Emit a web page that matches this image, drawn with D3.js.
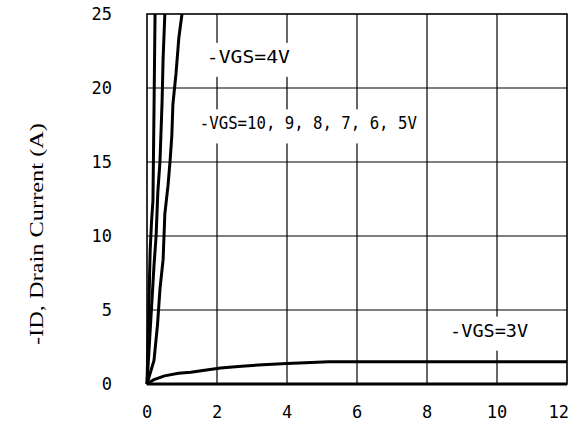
<!DOCTYPE html>
<html>
<head>
<meta charset="utf-8">
<script src="https://cdn.jsdelivr.net/npm/d3@7"></script>
<style>
  body { margin: 0; background: #fff; }
  text { fill: #000; }
</style>
</head>
<body>
<div id="chart"></div>
<script>

// axis ticks
var xTicks = [0, 2, 4, 6, 8, 10, 12],
  yTicks = [0, 5, 10, 15, 20, 25];

// curves: -VD (V) and -ID (A)
var vgs10Vd = [0, 0.05, 0.09, 0.13, 0.17, 0.2, 0.23],
  vgs10Id = [0, 5, 9, 11, 12.4, 18.5, 25];
var vgs6Vd = [0, 0.1, 0.2, 0.26, 0.31, 0.37, 0.43, 0.46, 0.51],
  vgs6Id = [0, 4, 8, 10, 13, 15, 19, 22, 25];
var vgs4Vd = [0, 0.2, 0.3, 0.37, 0.46, 0.51, 0.6, 0.66, 0.71, 0.74, 0.83, 0.91, 1.0],
  vgs4Id = [0, 1.6, 4, 6.4, 8.4, 11.5, 13.4, 15.1, 16.8, 18.9, 21, 23.4, 25];
var vgs3Vd = [0, 0.2, 0.5, 0.9, 1.25, 1.7, 2.1, 2.7, 3.3, 4, 5.2, 12],
  vgs3Id = [0, 0.3, 0.55, 0.72, 0.8, 0.95, 1.08, 1.2, 1.3, 1.38, 1.5, 1.5];
var vgs2Vd = [0, 12],
  vgs2Id = [0, 0];

var curvesVd = [vgs10Vd, vgs6Vd, vgs4Vd, vgs3Vd, vgs2Vd],
  curvesId = [vgs10Id, vgs6Id, vgs4Id, vgs3Id, vgs2Id];

// annotations
var labelText = ["-VGS=4V", "-VGS=10, 9, 8, 7, 6, 5V", "-VGS=3V"],
  labelX = [1.71, 1.51, 8.66],
  labelY = [21.7, 17.2, 3.2],
  labelLen = [83, 217, 78];


var margin = { top: 14, right: 2, bottom: 42, left: 147 },
  width = 569 - margin.left - margin.right,
  height = 426 - margin.top - margin.bottom;

var svg = d3.select("#chart")
  .append("svg")
  .attr("width", 569)
  .attr("height", 426)
  .append("g")
  .attr("transform", "translate(" + margin.left + "," + margin.top + ")");

var x = d3.scaleLinear().domain([0, 12]).range([0, width]);
var y = d3.scaleLinear().domain([0, 25]).range([height, 0]);

var tickFont = "'DejaVu Sans Mono', monospace";

// grid
svg.append("g")
  .selectAll("line.vg")
  .data(xTicks.slice(1, -1))
  .enter().append("line")
  .attr("x1", d => x(d)).attr("x2", d => x(d))
  .attr("y1", 0).attr("y2", height)
  .attr("stroke", "#000").attr("stroke-width", 1.2);
svg.append("g")
  .selectAll("line.hg")
  .data(yTicks.slice(1, -1))
  .enter().append("line")
  .attr("x1", 0).attr("x2", width)
  .attr("y1", d => y(d)).attr("y2", d => y(d))
  .attr("stroke", "#000").attr("stroke-width", 1.2);

// frame
svg.append("rect")
  .attr("x", 0).attr("y", 0)
  .attr("width", width).attr("height", height)
  .attr("fill", "none")
  .attr("stroke", "#000")
  .attr("stroke-width", 1.6);

// labels with white boxes that cut the grid
labelText.forEach(function (t, i) {
  var g = svg.append("g");
  var txt = g.append("text")
    .attr("x", x(labelX[i]))
    .attr("y", y(labelY[i]))
    .attr("textLength", labelLen[i])
    .attr("lengthAdjust", "spacingAndGlyphs")
    .style("font-family", tickFont)
    .style("font-size", "18px")
    .text(t);
  var bb = txt.node().getBBox();
  g.insert("rect", "text")
    .attr("x", bb.x - 4)
    .attr("y", bb.y - 3)
    .attr("width", bb.width + 8)
    .attr("height", bb.height + 13)
    .attr("fill", "#fff");
});

// curves
var line = d3.line()
  .x(d => x(d[0]))
  .y(d => y(d[1]));

curvesVd.forEach(function (vd, i) {
  var pts = vd.map((v, j) => [v, curvesId[i][j]]);
  svg.append("path")
    .datum(pts)
    .attr("fill", "none")
    .attr("stroke", "#000")
    .attr("stroke-width", 3)
    .attr("stroke-linejoin", "round")
    .attr("d", line);
});

// tick labels
svg.append("g")
  .selectAll("text")
  .data(xTicks)
  .enter().append("text")
  .attr("x", (d, i) => i == xTicks.length - 1 ? x(d) + 2 : x(d))
  .attr("y", height + 34)
  .attr("text-anchor", (d, i) => i == xTicks.length - 1 ? "end" : "middle")
  .style("font-family", tickFont)
  .style("font-size", "17px")
  .text(d => d);

svg.append("g")
  .selectAll("text")
  .data(yTicks)
  .enter().append("text")
  .attr("x", -35)
  .attr("y", d => y(d) + 6)
  .attr("text-anchor", "end")
  .style("font-family", tickFont)
  .style("font-size", "17px")
  .text(d => d);

// Y axis title
svg.append("text")
  .attr("text-anchor", "middle")
  .attr("transform", "translate(" + (-104) + "," + (234 - margin.top) + ")rotate(-90)")
  .attr("textLength", 222)
  .attr("lengthAdjust", "spacingAndGlyphs")
  .style("font-family", "'Liberation Serif', serif")
  .style("font-size", "19px")
  .text("-ID, Drain Current (A)");

</script>
</body>
</html>
